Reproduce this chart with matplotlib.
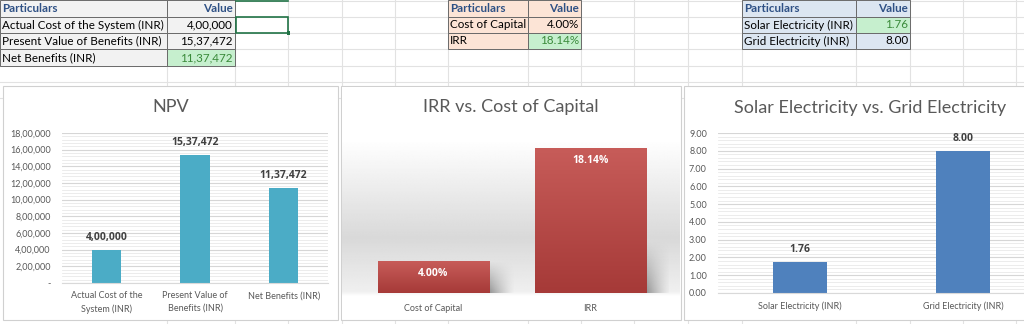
import textwrap

import matplotlib.pyplot as plt
import numpy as np
from matplotlib.colors import LinearSegmentedColormap
from matplotlib.lines import Line2D
from matplotlib.patches import Rectangle

plt.rcParams["font.family"] = ["Lato", "DejaVu Sans"]

# %%
# data read from the sheet
npv_labels = ["Actual Cost of the System (INR)", "Present Value of Benefits (INR)", "Net Benefits (INR)"]
npv_values = [400000, 1537472, 1137472]

rate_labels = ["Cost of Capital", "IRR"]
rate_values = [4.00, 18.14]

elec_labels = ["Solar Electricity (INR)", "Grid Electricity (INR)"]
elec_values = [1.76, 8.00]

W, H = 1024, 324
GRAY_TXT = "#595959"
GREEN_FILL = "#c6efce"
GREEN_TXT = "#3a8a3a"
LABEL_FONT = dict(family=["Open Sans", "DejaVu Sans"], fontsize=7.5, fontweight="bold")


def inr(v):
    s = str(int(round(v)))
    if len(s) <= 3:
        return s
    last3, rest = s[-3:], s[:-3]
    groups = []
    while len(rest) > 2:
        groups.insert(0, rest[-2:])
        rest = rest[:-2]
    if rest:
        groups.insert(0, rest)
    return ",".join(groups + [last3])


def box(x0, y0, x1, y1):
    # pixel box (top-left origin) -> figure fraction rect
    return [x0 / W, 1 - y1 / H, (x1 - x0) / W, (y1 - y0) / H]


fig = plt.figure(figsize=(W / 100, H / 100), dpi=100)
fig.patch.set_facecolor("white")

# %%
# excel sheet gridlines
for x in [167, 235, 288, 342, 395, 448, 528, 581, 634, 688, 742, 856, 910, 963, 1016]:
    fig.add_artist(Line2D([x / W, x / W], [0, 1], color="#e2e2e2", lw=0.8, zorder=0))
for y in [0.5, 17, 33, 49, 66, 82, 98]:
    fig.add_artist(Line2D([0, 1], [1 - y / H, 1 - y / H], color="#e2e2e2", lw=0.8, zorder=0))

rows = [0, 17, 33, 49, 66]


def cell(x0, x1, r, text, fill, color="black", bold=False, align="left"):
    y0, y1 = rows[r], rows[r + 1]
    fig.add_artist(Rectangle((x0 / W, 1 - y1 / H), (x1 - x0) / W, (y1 - y0) / H,
                             transform=fig.transFigure, facecolor=fill,
                             edgecolor="#6a6a6a", lw=0.7, zorder=1))
    tx = (x0 + 2) / W if align == "left" else (x1 - 2) / W
    fig.text(tx, 1 - (y0 + y1) / 2 / H, text, ha=align, va="center", fontsize=8.4,
             color=color, fontweight="bold" if bold else "normal", zorder=2)


def table(x0, xm, x1, labels, values, fill, green_row):
    cell(x0, xm, 0, "Particulars", fill, "#2f5185", True)
    cell(xm, x1, 0, "Value", fill, "#2f5185", True, "right")
    for i, (lab, val) in enumerate(zip(labels, values)):
        cell(x0, xm, i + 1, lab, fill)
        if i == green_row:
            cell(xm, x1, i + 1, val, GREEN_FILL, GREEN_TXT, align="right")
        else:
            cell(xm, x1, i + 1, val, fill, align="right")


table(0, 167, 235, npv_labels, [inr(v) for v in npv_values], "#f2f2f2", 2)
table(448, 528, 581, rate_labels, [f"{v:.2f}%" for v in rate_values], "#fce4d6", 1)
table(742, 856, 910, elec_labels, [f"{v:.2f}" for v in elec_values], "#dce6f1", 0)

# selected cell
fig.add_artist(Rectangle((236 / W, 1 - 33 / H), 52 / W, 16 / H, transform=fig.transFigure,
                         facecolor="none", edgecolor="#217346", lw=1.2, zorder=2))
fig.add_artist(Rectangle((286.5 / W, 1 - 34.5 / H), 3 / W, 3 / H, transform=fig.transFigure,
                         facecolor="#217346", edgecolor="none", zorder=2))
fig.add_artist(Line2D([236 / W, 288 / W], [1 - 0.8 / H] * 2, color="#217346", lw=1.2, zorder=2))

# %%
# chart panels
for x0, x1 in [(3, 338), (341, 681), (684, 1060)]:
    fig.add_artist(Rectangle((x0 / W, 1 - 320 / H), (x1 - x0) / W, (320 - 86) / H,
                             transform=fig.transFigure, facecolor="white",
                             edgecolor="#d0d0d0", lw=0.8, zorder=3))


def style_grid_axes(ax):
    ax.set_facecolor("none")
    for s in ax.spines.values():
        s.set_visible(False)
    ax.spines["bottom"].set_visible(True)
    ax.spines["bottom"].set_color("#d9d9d9")
    ax.grid(axis="y", which="major", color="#d6d6d6", lw=0.8)
    ax.grid(axis="y", which="minor", color="#e9e9e9", lw=0.6)
    ax.set_axisbelow(True)
    ax.tick_params(axis="both", which="both", length=0, colors=GRAY_TXT, labelsize=6.5)
    ax.tick_params(axis="y", pad=8)
    ax.tick_params(axis="x", pad=6)


def label_above(ax, xs, vals, texts):
    for xi, v, t in zip(xs, vals, texts):
        ax.annotate(t, (xi, v), xytext=(0, 5), textcoords="offset points", ha="center",
                    va="bottom", color="#404040", **LABEL_FONT)


# --- NPV
ax1 = fig.add_axes(box(62, 133, 328, 283), zorder=5)
x1 = np.arange(len(npv_values))
ax1.bar(x1, npv_values, width=0.33, color="#4bacc6")
ax1.set_xlim(-0.5, len(npv_values) - 0.5)
ax1.set_ylim(0, 1800000)
ax1.set_yticks(np.arange(0, 1800001, 200000))
ax1.set_yticks(np.arange(0, 1800001, 40000), minor=True)
ax1.set_yticklabels(["-" if v == 0 else inr(v) for v in ax1.get_yticks()])
ax1.set_xticks(x1)
ax1.set_xticklabels([textwrap.fill(s, 18) for s in npv_labels], linespacing=1.5)
style_grid_axes(ax1)
label_above(ax1, x1, npv_values, [inr(v) for v in npv_values])
fig.text(171 / W, 1 - 107 / H, "NPV", ha="center", va="center", fontsize=13, color=GRAY_TXT, zorder=6)

# --- IRR vs cost of capital (shaded style)
bg = fig.add_axes(box(342, 87, 680, 319), zorder=4)
ys = np.linspace(87, 319, 300)
shade = np.interp(ys, [87, 140, 238, 262, 292, 296, 319], [1.0, 1.0, 0.85, 0.89, 0.94, 1.0, 1.0])
bg.imshow(np.repeat(shade[:, None], 2, axis=1), cmap="gray", vmin=0, vmax=1,
          aspect="auto", extent=[0, 1, 0, 1], interpolation="bilinear")
bg.axis("off")

ax2 = fig.add_axes(box(355, 133, 669, 293), zorder=5)
ax2.set_facecolor("none")
x2 = np.arange(len(rate_values))
bars = ax2.bar(x2, rate_values, width=0.71, color="#b94845", zorder=3)
red = LinearSegmentedColormap.from_list("red", ["#a63a38", "#c75c59"])

# soft shadow at the lower right of each bar
u = np.linspace(0, 1, 40)
v = np.linspace(0, 1, 40)
alpha = 0.7 * np.outer(1 - v, (1 - u) ** 1.3)
shadow = np.zeros((40, 40, 4))
shadow[..., :3] = 0.42
shadow[..., 3] = alpha
for b in bars:
    right = b.get_x() + b.get_width()
    top = min(b.get_height(), 6.5)
    ax2.imshow(shadow, origin="lower", aspect="auto", interpolation="bilinear",
               extent=[right, right + 0.16, 0.0, top], zorder=2)
    im = ax2.imshow(np.linspace(0, 1, 50)[:, None], cmap=red, aspect="auto", origin="lower",
                    extent=[b.get_x(), right, 0, b.get_height()], zorder=3)
    im.set_clip_path(b)
ax2.set_xlim(-0.5, len(rate_values) - 0.5)
ax2.set_ylim(0, 20)
for xi, val in zip(x2, rate_values):
    ax2.annotate(f"{val:.2f}%", (xi, val), xytext=(0, -9), textcoords="offset points", ha="center",
                 va="center", color="white", zorder=4, **LABEL_FONT)
for s in ax2.spines.values():
    s.set_visible(False)
ax2.set_yticks([])
ax2.set_xticks(x2)
ax2.set_xticklabels(rate_labels)
ax2.tick_params(axis="x", length=0, colors=GRAY_TXT, labelsize=6.5, pad=8)
fig.text(511 / W, 1 - 107 / H, "IRR vs. Cost of Capital", ha="center", va="center",
         fontsize=13, color=GRAY_TXT, zorder=6)

# --- Solar vs grid
ax3 = fig.add_axes(box(718, 133, 1045, 293), zorder=5)
x3 = np.arange(len(elec_values))
ax3.bar(x3, elec_values, width=0.33, color="#4f81bd")
ax3.set_xlim(-0.5, len(elec_values) - 0.5)
ax3.set_ylim(0, 9)
ax3.set_yticks(np.arange(0, 9.01, 1))
ax3.set_yticks(np.arange(0, 9.01, 0.2), minor=True)
ax3.set_yticklabels([f"{v:.2f}" for v in ax3.get_yticks()])
ax3.set_xticks(x3)
ax3.set_xticklabels(elec_labels)
style_grid_axes(ax3)
label_above(ax3, x3, elec_values, [f"{v:.2f}" for v in elec_values])
fig.text(870 / W, 1 - 108 / H, "Solar Electricity vs. Grid Electricity", ha="center", va="center",
         fontsize=13, color=GRAY_TXT, zorder=6)

fig.savefig("out.png", dpi=100)
